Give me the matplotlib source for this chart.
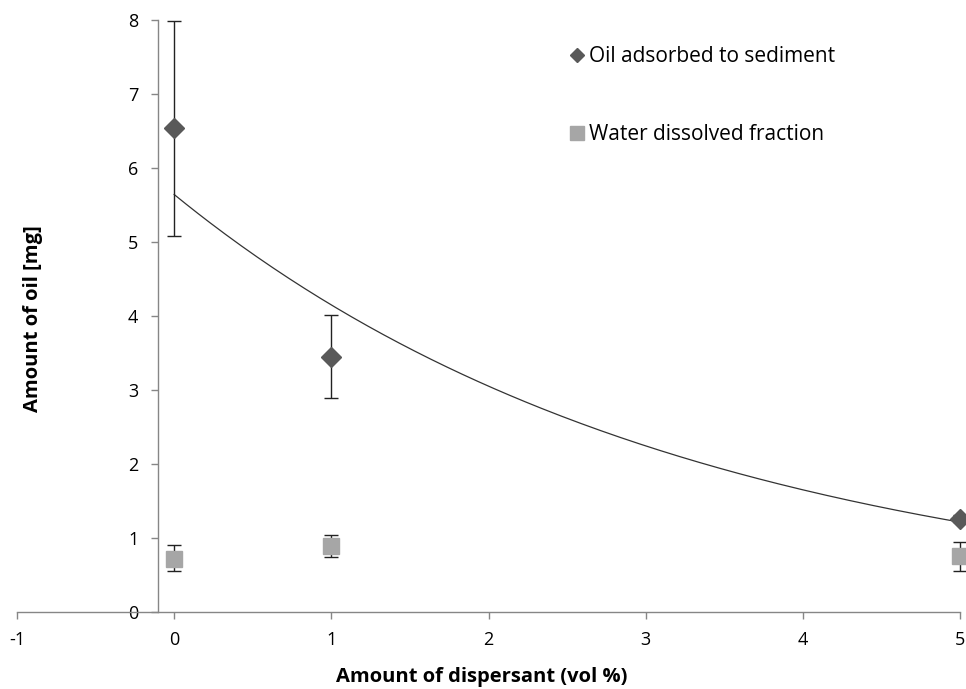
import numpy as np
import matplotlib
matplotlib.use("Agg")
import matplotlib.pyplot as plt
from matplotlib.lines import Line2D

plt.rcParams['font.family'] = ['Open Sans', 'DejaVu Sans']
plt.rcParams['axes.unicode_minus'] = False

# data
dispersant = np.array([0, 1, 5])
oil_sed = np.array([6.54, 3.45, 1.26])
oil_sed_lo = np.array([5.08, 2.89, 1.21])
oil_sed_hi = np.array([7.99, 4.01, 1.31])
water_frac = np.array([0.72, 0.89, 0.76])
water_frac_lo = np.array([0.55, 0.75, 0.56])
water_frac_hi = np.array([0.91, 1.04, 0.95])

x_ticks = [-1, 0, 1, 2, 3, 4, 5]
y_ticks = [0, 1, 2, 3, 4, 5, 6, 7, 8]

dark = "#595959"
light = "#A6A6A6"
axis_col = "#868686"

fig = plt.figure(figsize=(9.66, 6.89), dpi=100)
ax = fig.add_axes([17/966, 77/689, 943/966, 592/689])

# Oil adsorbed to sediment
ax.errorbar(dispersant, oil_sed, yerr=[oil_sed - oil_sed_lo, oil_sed_hi - oil_sed],
            ls="", marker="D", ms=10, color=dark, mec=dark, ecolor="#222222",
            elinewidth=1, capsize=5, capthick=1, zorder=3, clip_on=False)
# Water dissolved fraction
ax.errorbar(dispersant, water_frac, yerr=[water_frac - water_frac_lo, water_frac_hi - water_frac],
            ls="", marker="s", ms=11, color=light, mec=light, ecolor="#222222",
            elinewidth=1, capsize=5, capthick=1, zorder=3, clip_on=False)

# exponential trendline (Excel style fit)
b, a = np.polyfit(dispersant, np.log(oil_sed), 1)
xt = np.linspace(0, 5, 200)
ax.plot(xt, np.exp(a) * np.exp(b * xt), color="#333333", lw=0.9, zorder=2)

ax.set_xlim(-1, 5)
ax.set_ylim(0, 8)
ax.set_xticks(x_ticks)
ax.set_yticks(y_ticks)
ax.spines['top'].set_visible(False)
ax.spines['right'].set_visible(False)
ax.spines['left'].set_position(('data', -0.105))
for s in ['left', 'bottom']:
    ax.spines[s].set_color(axis_col)
    ax.spines[s].set_linewidth(1)
ax.tick_params(axis='both', colors=axis_col, labelcolor="black", labelsize=13,
               length=5, width=1)
ax.tick_params(axis='x', pad=9)
ax.tick_params(axis='y', pad=9)

fig.text(482/966, 1 - 682/689, "Amount of dispersant (vol %)", fontsize=14.5,
         fontweight="bold", ha="center", va="baseline")
fig.text(33/966, 1 - 319/689, "Amount of oil [mg]", rotation=90, fontsize=14.5,
         fontweight="bold", ha="center", va="center")

handles = [Line2D([], [], ls="", marker="D", ms=7, color=dark),
           Line2D([], [], ls="", marker="s", ms=10, color=light)]
ax.legend(handles, ["Oil adsorbed to sediment", "Water dissolved fraction"],
          loc="upper left", bbox_to_anchor=(0.565, 0.988), frameon=False,
          fontsize=15, labelspacing=2.75, handlelength=0.8, handletextpad=0.2)

fig.savefig("out.png", dpi=100)
